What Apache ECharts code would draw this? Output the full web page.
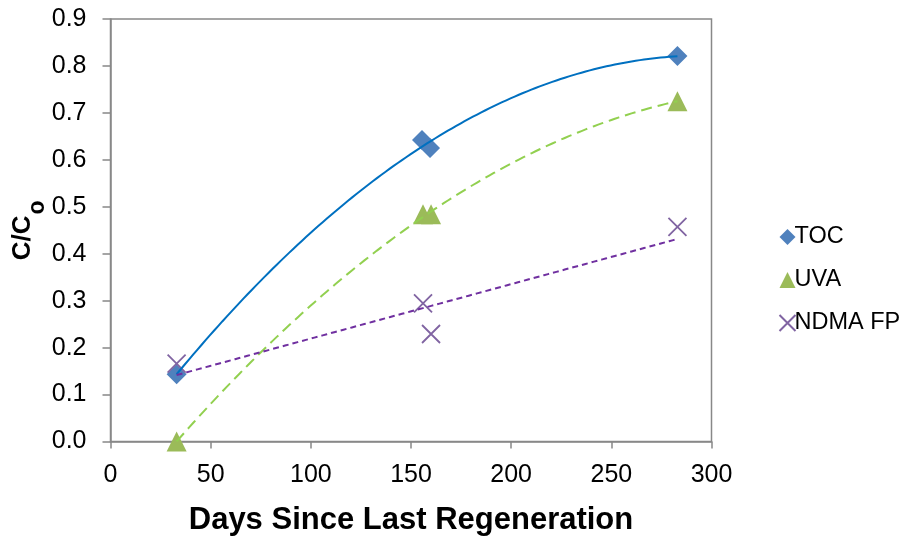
<!DOCTYPE html>
<html><head><meta charset="utf-8">
<script src="https://cdn.jsdelivr.net/npm/echarts@6/dist/echarts.min.js"></script>
<style>html,body{margin:0;padding:0;background:#fff}#c{width:905px;height:536px}</style>
</head><body><div id="c"></div>
<script>
// Data
const tocDays = [33, 155.5, 159.5, 283];
const tocVals = [0.143, 0.642, 0.625, 0.821];
const uvaDays = [33, 156, 160, 283];
const uvaVals = [0.0, 0.484, 0.484, 0.725];
const ndmaDays = [33, 156, 160, 283];
const ndmaVals = [0.166, 0.294, 0.229, 0.457];
const yTicks = [0, 0.1, 0.2, 0.3, 0.4, 0.5, 0.6, 0.7, 0.8, 0.9];
const xTicks = [0, 50, 100, 150, 200, 250, 300];

// least-squares polynomial fit (trendlines, as in the source chart)
function polyfit(xs, ys, order) {
  const n = order + 1;
  const A = [];
  for (let i = 0; i < n; i++) {
    A.push(new Array(n + 1).fill(0));
    for (let j = 0; j < n; j++) {
      let s = 0; xs.forEach(x => s += Math.pow(x, i + j)); A[i][j] = s;
    }
    let t = 0; xs.forEach((x, k) => t += ys[k] * Math.pow(x, i)); A[i][n] = t;
  }
  for (let i = 0; i < n; i++) {
    let p = i;
    for (let r = i + 1; r < n; r++) if (Math.abs(A[r][i]) > Math.abs(A[p][i])) p = r;
    [A[i], A[p]] = [A[p], A[i]];
    for (let r = 0; r < n; r++) {
      if (r === i) continue;
      const f = A[r][i] / A[i][i];
      for (let c = i; c <= n; c++) A[r][c] -= f * A[i][c];
    }
  }
  return A.map((row, i) => row[n] / row[i]);
}
function trend(xs, ys, order) {
  const co = polyfit(xs, ys, order);
  const x0 = Math.min(...xs), x1 = Math.max(...xs);
  const pts = [];
  for (let i = 0; i <= 120; i++) {
    const x = x0 + (x1 - x0) * i / 120;
    let y = 0; co.forEach((c, k) => y += c * Math.pow(x, k));
    pts.push([x, y]);
  }
  return pts;
}
const zip = (a, b) => a.map((v, i) => [v, b[i]]);

const crossPath = 'path://M0,0 L10,10 M10,0 L0,10';
const font = 'Liberation Sans, Arial, sans-serif';

const chart = echarts.init(document.getElementById('c'));
chart.setOption({
  animation: false,
  backgroundColor: '#fff',
  textStyle: { fontFamily: font },
  grid: { left: 110.5, right: 193.5, top: 19, bottom: 94.5, show: true, borderColor: '#888', borderWidth: 1.5,
          containLabel: false, outerBoundsMode: 'none' },
  legend: {
    orient: 'vertical', left: 772, top: 220, itemGap: 19, itemWidth: 16, itemHeight: 16,
    textStyle: { fontSize: 23.5, color: '#000', fontFamily: font, padding: [0, 0, 0, -6] },
    data: ['TOC', 'UVA', 'NDMA FP']
  },
  xAxis: {
    type: 'value', min: xTicks[0], max: xTicks[xTicks.length - 1], interval: 50,
    name: 'Days Since Last Regeneration', nameLocation: 'middle', nameGap: 63, nameMoveOverlap: false,
    nameTextStyle: { fontSize: 31, fontWeight: 'bold', color: '#000', fontFamily: font },
    axisLine: { lineStyle: { color: '#888', width: 1.5 } },
    axisTick: { show: true, length: 7, lineStyle: { color: '#888', width: 1.5 } },
    axisLabel: { fontSize: 25, color: '#000', margin: 21 },
    splitLine: { show: false }
  },
  yAxis: {
    type: 'value', min: yTicks[0], max: yTicks[yTicks.length - 1], interval: 0.1,
    name: '{a|C/C}{b|o}', nameLocation: 'middle', nameGap: 75, nameRotate: 90, nameMoveOverlap: false,
    nameTextStyle: {
      rich: {
        a: { fontSize: 26, lineHeight: 26, verticalAlign: 'top', fontWeight: 'bold', color: '#000', fontFamily: font },
        b: { fontSize: 23, lineHeight: 23, verticalAlign: 'top', fontWeight: 'bold', color: '#000', fontFamily: font, padding: [17, 0, 0, 1] }
      }
    },
    axisLine: { lineStyle: { color: '#888', width: 1.5 } },
    axisTick: { show: true, length: 8, lineStyle: { color: '#888', width: 1.5 } },
    axisLabel: { fontSize: 25, color: '#000', margin: 24, formatter: v => v.toFixed(1) },
    splitLine: { show: false }
  },
  series: [
    { name: 'TOC', type: 'scatter', data: zip(tocDays, tocVals), symbol: 'diamond', symbolSize: 20,
      itemStyle: { color: '#4F81BD', opacity: 1 }, z: 2 },
    { name: 'UVA', type: 'scatter', data: zip(uvaDays, uvaVals), symbol: 'triangle', symbolSize: 20,
      itemStyle: { color: '#9BBB59', opacity: 1 }, z: 2 },
    { name: 'NDMA FP', type: 'scatter', data: zip(ndmaDays, ndmaVals), symbol: crossPath, symbolSize: 18,
      itemStyle: { color: 'none', borderColor: '#8064A2', borderWidth: 1.8, opacity: 1 }, z: 2 },
    { name: 'TOC trend', type: 'line', data: trend(tocDays, tocVals, 2), showSymbol: false, symbol: 'none',
      lineStyle: { color: '#0070C0', width: 2 }, z: 3, silent: true },
    { name: 'UVA trend', type: 'line', data: trend(uvaDays, uvaVals, 2), showSymbol: false, symbol: 'none',
      lineStyle: { color: '#92D050', width: 2, type: [11, 6] }, z: 3, silent: true },
    { name: 'NDMA trend', type: 'line', data: trend(ndmaDays, ndmaVals, 1), showSymbol: false, symbol: 'none',
      lineStyle: { color: '#7030A0', width: 2, type: [6, 4] }, z: 3, silent: true }
  ]
});
</script>
</body></html>
